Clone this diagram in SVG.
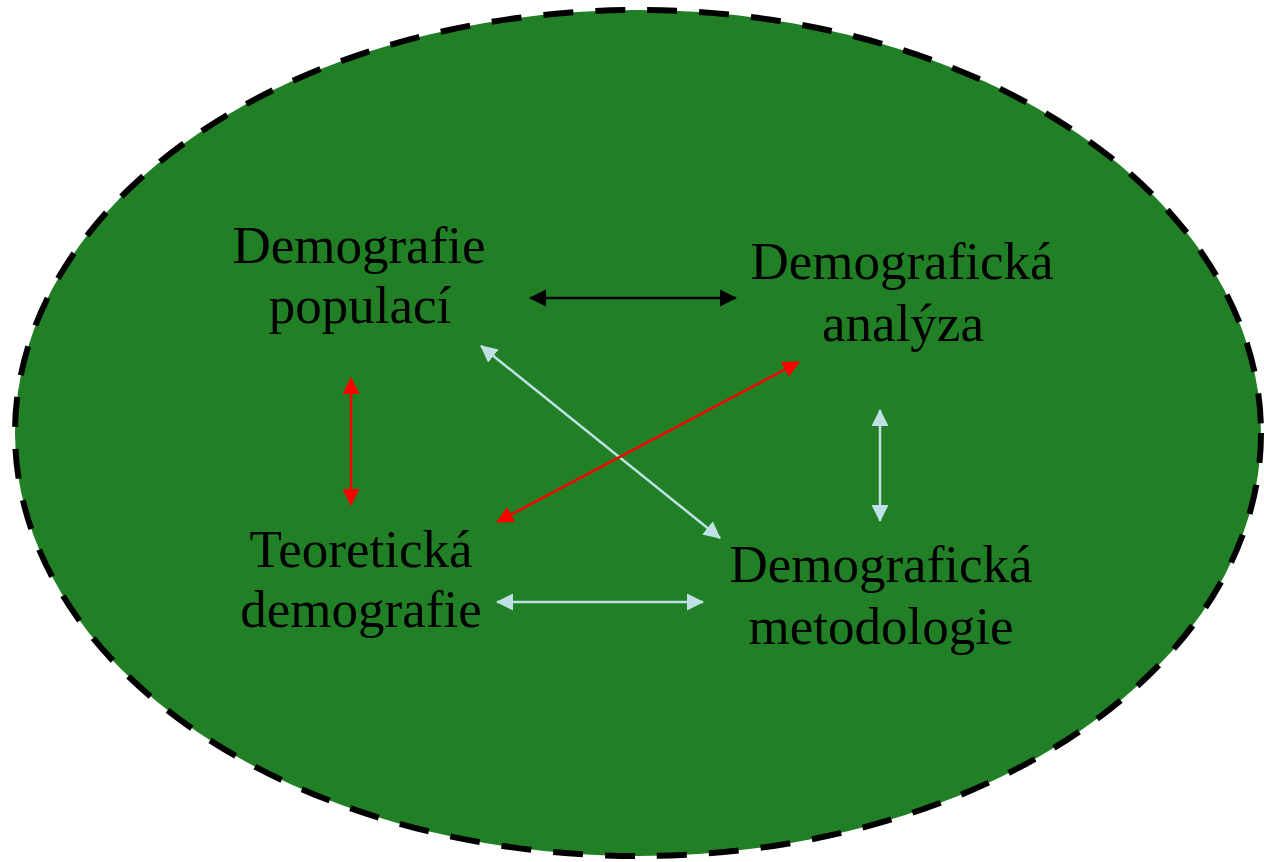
<svg xmlns="http://www.w3.org/2000/svg" width="1264" height="862" viewBox="0 0 1264 862">
  <style>
    .lbl { font-family: "Liberation Serif", "Times New Roman", serif; font-size: 53px; fill: #000; text-anchor: middle; }
    .c { fill: none; }
  </style>
  <defs>
    <marker id="hk" markerUnits="userSpaceOnUse" markerWidth="17" markerHeight="17" refX="16" refY="8.5" orient="auto-start-reverse" viewBox="0 0 17 17">
      <path d="M0,0 L17,8.5 L0,17 z" fill="#000"/>
    </marker>
    <marker id="hr" markerUnits="userSpaceOnUse" markerWidth="17" markerHeight="17" refX="16" refY="8.5" orient="auto-start-reverse" viewBox="0 0 17 17">
      <path d="M0,0 L17,8.5 L0,17 z" fill="#ff0000"/>
    </marker>
    <marker id="hb" markerUnits="userSpaceOnUse" markerWidth="17" markerHeight="17" refX="16" refY="8.5" orient="auto-start-reverse" viewBox="0 0 17 17">
      <path d="M0,0 L17,8.5 L0,17 z" fill="#bfe1e6"/>
    </marker>
  </defs>
  <rect width="1264" height="862" fill="#ffffff"/>
  <ellipse id="bg" cx="638" cy="433" rx="623" ry="423" fill="#218025" stroke="#000" stroke-width="6" stroke-dasharray="30 22"/>

  <g id="connectors">
    <line class="c" x1="530" y1="298" x2="736" y2="298" stroke="#000" stroke-width="2.5" marker-start="url(#hk)" marker-end="url(#hk)"/>
    <line class="c" x1="351" y1="378" x2="351" y2="505" stroke="#ff0000" stroke-width="2.5" marker-start="url(#hr)" marker-end="url(#hr)"/>
    <line class="c" x1="481" y1="346" x2="720" y2="538" stroke="#bfe1e6" stroke-width="2.5" marker-start="url(#hb)" marker-end="url(#hb)"/>
    <line class="c" x1="799" y1="362" x2="497" y2="522" stroke="#ff0000" stroke-width="2.5" marker-start="url(#hr)" marker-end="url(#hr)"/>
    <line class="c" x1="880" y1="410" x2="880" y2="521" stroke="#bfe1e6" stroke-width="2.5" marker-start="url(#hb)" marker-end="url(#hb)"/>
    <line class="c" x1="497" y1="602" x2="703" y2="602" stroke="#bfe1e6" stroke-width="2.5" marker-start="url(#hb)" marker-end="url(#hb)"/>
  </g>

  <g id="node-demografie-populaci">
    <text class="lbl" x="359" y="263">Demografie</text>
    <text class="lbl" x="360" y="323">populací</text>
  </g>
  <g id="node-demograficka-analyza">
    <text class="lbl" x="902" y="279">Demografická</text>
    <text class="lbl" x="903" y="341">analýza</text>
  </g>
  <g id="node-teoreticka-demografie">
    <text class="lbl" x="361" y="567">Teoretická</text>
    <text class="lbl" x="361" y="627">demografie</text>
  </g>
  <g id="node-demograficka-metodologie">
    <text class="lbl" x="881" y="582">Demografická</text>
    <text class="lbl" x="881" y="644">metodologie</text>
  </g>
</svg>
